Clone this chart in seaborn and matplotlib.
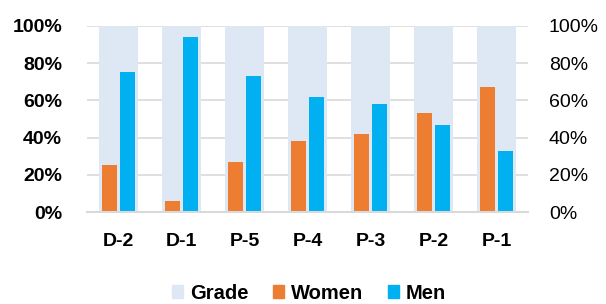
import pandas as pd
import matplotlib.pyplot as plt
import matplotlib.patches as mpatches
import seaborn as sns

# Data
grades = ['D-2', 'D-1', 'P-5', 'P-4', 'P-3', 'P-2', 'P-1']
women = [25, 6, 27, 38, 42, 53, 67]
men = [75, 94, 73, 62, 58, 47, 33]
grade_total = [100, 100, 100, 100, 100, 100, 100]

GRADE_COLOR = '#DEE8F4'
WOMEN_COLOR = '#ED7D31'
MEN_COLOR = '#00B0F0'

sns.set_style("white")
plt.rcParams['font.family'] = ['Liberation Sans', 'DejaVu Sans']
plt.rcParams['text.color'] = 'black'
plt.rcParams['xtick.color'] = 'black'
plt.rcParams['ytick.color'] = 'black'

df_grade = pd.DataFrame({'Grade': grades, 'value': [v / 100 for v in grade_total]})
df_gender = pd.DataFrame({
    'Grade': grades * 2,
    'Gender': ['Women'] * len(grades) + ['Men'] * len(grades),
    'value': [v / 100 for v in women + men],
})

fig = plt.figure(figsize=(6.06, 3.04), dpi=100)
ax = fig.add_axes([0.1436, 0.3026, 0.7277, 0.612])

# Background grade bars
sns.barplot(data=df_grade, x='Grade', y='value', color=GRADE_COLOR,
            width=0.62, saturation=1, linewidth=0, ax=ax, zorder=1)
# Women / Men bars
sns.barplot(data=df_gender, x='Grade', y='value', hue='Gender',
            palette={'Women': WOMEN_COLOR, 'Men': MEN_COLOR},
            width=0.56, gap=0.14, saturation=1, linewidth=0,
            ax=ax, legend=False, zorder=2)

ax.set_ylim(0, 1)
ax.set_xlim(-0.5, len(grades) - 0.5)
ax.set_yticks([0, 0.2, 0.4, 0.6, 0.8, 1.0])
ax.set_yticklabels(['0%', '20%', '40%', '60%', '80%', '100%'],
                   fontsize=14, fontweight='bold')
ax.set_xticks(range(len(grades)))
ax.set_xticklabels(grades, fontsize=14, fontweight='bold')
ax.tick_params(axis='x', length=0, pad=15)
ax.tick_params(axis='y', length=0, pad=18)
ax.set_xlabel('')
ax.set_ylabel('')
ax.yaxis.grid(True, color='#D9D9D9', linewidth=1.2, zorder=0)
ax.set_axisbelow(True)
for side in ['top', 'right', 'left']:
    ax.spines[side].set_visible(False)
ax.spines['bottom'].set_color('#D9D9D9')
ax.spines['bottom'].set_linewidth(1.5)

# Secondary (right) axis with the same scale
ax2 = ax.twinx()
ax2.set_ylim(0, 1)
ax2.set_yticks([0, 0.2, 0.4, 0.6, 0.8, 1.0])
ax2.set_yticklabels(['0%', '20%', '40%', '60%', '80%', '100%'], fontsize=14)
ax2.tick_params(axis='y', length=0, pad=15)
for side in ax2.spines:
    ax2.spines[side].set_visible(False)

handles = [
    mpatches.Patch(color=GRADE_COLOR, label='Grade'),
    mpatches.Patch(color=WOMEN_COLOR, label='Women'),
    mpatches.Patch(color=MEN_COLOR, label='Men'),
]
fig.legend(handles=handles, loc='lower center', bbox_to_anchor=(0.51, -0.055),
           ncol=3, frameon=False, prop={'weight': 'bold', 'size': 14.5},
           handlelength=0.55, handleheight=0.55, handletextpad=0.35,
           columnspacing=1.2)

plt.savefig('out.png', dpi=100)
